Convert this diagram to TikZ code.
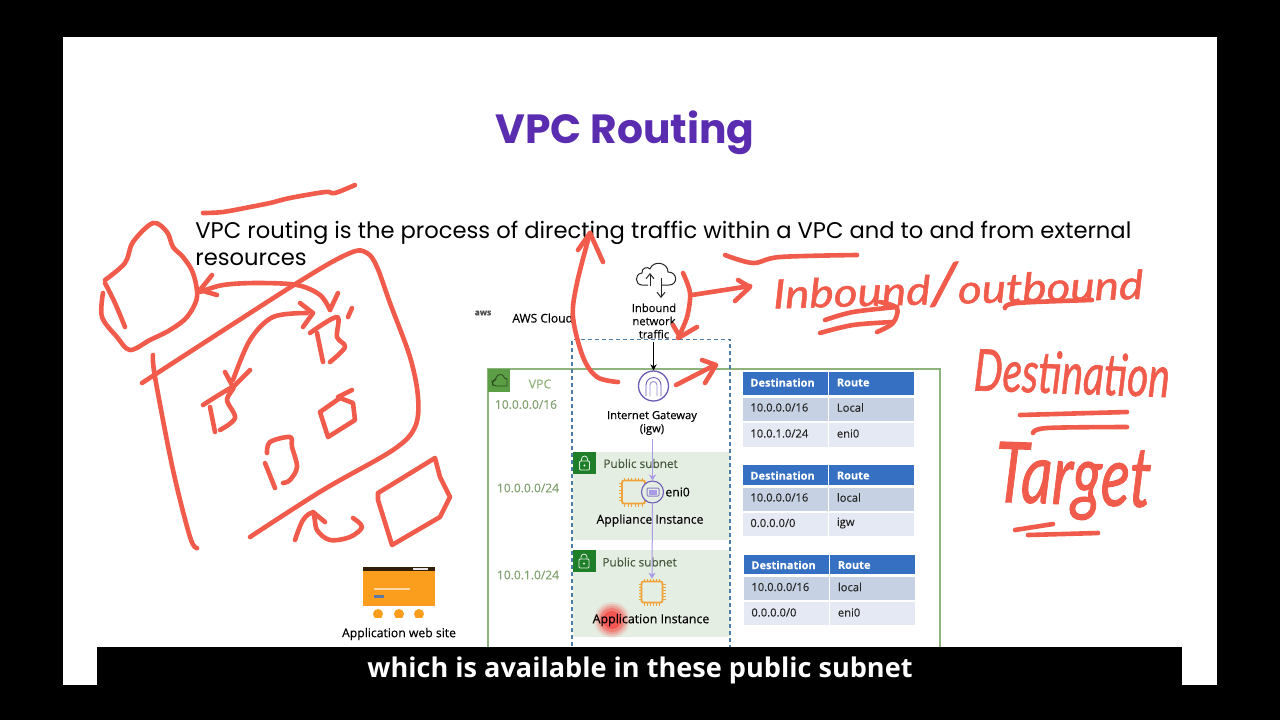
\documentclass[tikz,border=0pt]{standalone}
\usepackage{fontspec}
\setmainfont{Poppins}
\newfontfamily\figfont[FakeBold=0.25]{Open Sans}
\newfontfamily\capfont{Open Sans}
\newfontfamily\handfont[FakeBold=1.2]{Lato Italic}
\usetikzlibrary{arrows.meta}
\definecolor{inkred}{HTML}{F15B4B}
\definecolor{vpcgreen}{HTML}{8FB37C}
\definecolor{vpcicon}{HTML}{5C9E45}
\definecolor{subfill}{HTML}{E4EEE2}
\definecolor{subicon}{HTML}{1F7F28}
\definecolor{dashblue}{HTML}{4E7CA8}
\definecolor{titlepurple}{HTML}{5A2DB0}
\definecolor{gwpurple}{HTML}{6C5CB8}
\definecolor{flowpurple}{HTML}{A99BE6}
\definecolor{chiporange}{HTML}{F0A338}
\definecolor{siteorange}{HTML}{FB9E1E}
\definecolor{headblue}{HTML}{3570C2}
\definecolor{rowa}{HTML}{C6D1E4}
\definecolor{rowb}{HTML}{E5E9F3}
\tikzset{
  ink/.style={draw=inkred,line width=2.3pt,line cap=round,line join=round},
  fig/.style={font=\figfont\fontsize{5.6}{7}\selectfont,text=black,inner sep=0pt,align=center},
  greenlab/.style={font=\figfont\fontsize{6}{7}\selectfont,text=vpcgreen!90!black,inner sep=0pt},
  subtitle/.style={font=\figfont\fontsize{5.9}{7}\selectfont,text=black!30!vpcgreen!70!black,inner sep=0pt,anchor=west},
  body/.style={font=\fontsize{11.32}{14}\selectfont,inner sep=0pt,anchor=base west},
  th/.style={fill=headblue},
  cellhead/.style={font=\figfont\bfseries\fontsize{5.5}{7}\selectfont,text=white,inner sep=0pt,anchor=west},
  cell/.style={font=\figfont\fontsize{5.6}{7}\selectfont,text=black!85,inner sep=0pt,anchor=west},
  hand/.style={text=inkred,inner sep=0pt,font=\handfont},
}
\newcommand{\inkpath}[1]{\draw[ink] plot[smooth,tension=0.55] coordinates {#1};}
\newcommand{\inkline}[1]{\draw[ink,sharp corners] plot coordinates {#1};}
\newcommand{\chipicon}[3]{%
  \foreach \t in {-0.75,-0.45,-0.15,0.15,0.45,0.75}{
    \draw[chiporange,line width=.45pt] (#1+\t*#3,#2-#3-3) -- (#1+\t*#3,#2+#3+3);
    \draw[chiporange,line width=.45pt] (#1-#3-3,#2+\t*#3) -- (#1+#3+3,#2+\t*#3);
  }
  \draw[chiporange,line width=.9pt,fill=subfill,rounded corners=1pt] (#1-#3,#2-#3) rectangle (#1+#3,#2+#3);
}
\newcommand{\lockicon}[2]{%
  \fill[subicon] (#1,#2) rectangle ++(23,22);
  \draw[white!85!subicon,line width=.4pt,rounded corners=.5pt] (#1+6.5,#2+9) rectangle ++(10,9);
  \draw[white!85!subicon,line width=.4pt] (#1+8.5,#2+9) -- ++(0,-2) arc[start angle=180,end angle=360,radius=3] -- ++(0,2);
  \fill[white!85!subicon] (#1+11.5,#2+13.5) circle[radius=1.2];
}
\newcommand{\routetable}[7]{%
  \fill[th] (#1,#2) rectangle (#1+85,#3);
  \fill[th] (#1+86,#2) rectangle (#1+171,#3);
  \fill[rowa] (#1,#4) rectangle (#1+85,#5);
  \fill[rowa] (#1+86,#4) rectangle (#1+171,#5);
  \fill[rowb] (#1,#6) rectangle (#1+85,#7);
  \fill[rowb] (#1+86,#6) rectangle (#1+171,#7);
}
\begin{document}
\begin{tikzpicture}[x=0.5pt,y=-0.5pt]
\useasboundingbox (0,0) rectangle (1280,720);
\fill[black] (0,0) rectangle (1280,720);
\fill[white] (63,37) rectangle (1217,685);

% Title and body
\node[font=\bfseries\fontsize{20.4}{25}\selectfont,text=titlepurple,inner sep=0pt] (title) at (625,133) {VPC Routing};
\node[body] (line1) at (195,238.5) {VPC routing is the process of directing traffic within a VPC and to and from external};
\node[body] (line2) at (195,265) {resources};

% AWS header
\node[font=\figfont\bfseries\fontsize{4.2}{5}\selectfont,text=black!70,inner sep=0pt] (awslogo) at (483,313) {aws};
\node[font=\figfont\fontsize{6}{7}\selectfont,text=black,inner sep=0pt,anchor=west] (awscloud) at (512,318) {AWS Cloud};

% VPC frame
\draw[vpcgreen,line width=.6pt] (488,660) -- (488,369) -- (940,369) -- (940,660);
\fill[vpcicon] (488,369) rectangle (510,392);
\draw[black!55!vpcicon,line width=.4pt,rounded corners=1.5pt] (493,386) -- (492,381) -- (496,380) .. controls (497,374) and (503,374) .. (504,379) .. controls (507,379) and (507,386) .. (504,386) -- cycle;
\node[font=\figfont\fontsize{6.2}{7}\selectfont,text=vpcgreen,inner sep=0pt] (vpclabel) at (540,384) {VPC};
\node[greenlab] (cidr) at (526,404.5) {10.0.0.0/16};
\node[greenlab] (cidra) at (528,488) {10.0.0.0/24};
\node[greenlab] (cidrb) at (528,575) {10.0.1.0/24};

% Subnets
\fill[subfill] (573,452) rectangle (730,540);
\fill[subfill] (573,550) rectangle (730,637);
\lockicon{573}{452}
\lockicon{572.5}{550}
\node[subtitle] (sub1) at (603,463.5) {Public subnet};
\node[subtitle] (sub2) at (602,562) {Public subnet};

% Dashed frame
\draw[dashblue,line width=.55pt,dash pattern=on 2.2pt off 1.3pt] (572,660) -- (572,339.5) -- (730,339.5) -- (730,660);

% Inbound cloud icon
\draw[black!85,line width=.5pt,line join=round] (648,285) -- (642,285) .. controls (635,285) and (634,274) .. (642,273) .. controls (641,268) and (648,266) .. (650,269) .. controls (653,260) and (668,262) .. (668,272) .. controls (678,272) and (678,285) .. (669,285) -- (661,285);
\draw[black!85,line width=.5pt,-{Straight Barb[length=2.5pt,width=4pt]}] (650,286) -- (650,273);
\draw[black!85,line width=.5pt,-{Straight Barb[length=2.5pt,width=4pt]}] (661,278) -- (661,298);
\node[fig] (inbound) at (654,321) {Inbound\\[-.4pt]network\\[-.4pt]traffic};

% Gateway
\node[circle,draw=gwpurple,line width=.65pt,fill=white,minimum size=30pt*0.5,inner sep=0pt] (igw) at (653.5,386) {};
\draw[gwpurple,line width=.45pt] (646,396) -- (646,385) arc[start angle=180,end angle=360,radius=7.5] -- (661,396);
\draw[gwpurple!70,line width=.45pt] (650,396) -- (650,385) arc[start angle=180,end angle=360,radius=3.5] -- (657,396);
\node[fig] (igwlabel) at (652,423) {Internet Gateway\\[-.4pt](igw)};
\draw[black,line width=.4pt,-{Stealth[length=3pt,width=3.2pt]}] (inbound.south -| igw) ++(0,3) -- (igw.north);

% Instances
\chipicon{633.5}{492}{11.5}
\node[circle,draw=gwpurple,line width=.55pt,fill=subfill,minimum size=22pt*0.5,inner sep=0pt] (eni) at (652.5,492) {};
\draw[gwpurple!80,line width=.5pt,rounded corners=.5pt] (647,488) rectangle (659,496);
\fill[flowpurple] (649,489.5) rectangle (657,494.5);
\node[fig,anchor=west,font=\figfont\fontsize{6.1}{7}\selectfont] (enilabel) at (665,492) {eni0};
\node[fig,font=\figfont\fontsize{6.1}{7}\selectfont] (applabel) at (650,520.5) {Appliance Instance};
\chipicon{652}{592}{10.5}
\node[inner sep=0pt,minimum size=13pt] (appchip) at (652,592) {};

% Red laser pointer
\foreach \r/\o in {18/.08,16/.12,14/.16,12/.22,9/.3}{
  \fill[red,opacity=\o] (612,620) circle[radius=\r];
}
\node[fig,font=\figfont\fontsize{6.2}{7}\selectfont] (applabelb) at (651,620) {Application Instance};

% Flow lines
\draw[flowpurple,line width=.5pt,-{Stealth[length=3pt,width=3.6pt]}] (igwlabel.south -| eni) ++(0,4) -- (eni.north);
\draw[flowpurple,line width=.5pt,-{Stealth[length=3pt,width=3.6pt]}] (eni.south) -- (appchip.north);

% Route tables
\routetable{743}{372}{395}{398}{421}{423}{447}
\routetable{743}{465}{485}{488}{511}{513}{536}
\routetable{743.5}{555}{574}{577}{600}{602}{625}
\node[cellhead] (ah) at (750,382.5) {Destination};
\node[cellhead] (ar) at (836.5,382.5) {Route};
\node[cell] (a1) at (750,407.5) {10.0.0.0/16};
\node[cell] (a1r) at (836.5,407.5) {Local};
\node[cell] (a2) at (750,433.5) {10.0.1.0/24};
\node[cell] (a2r) at (836.5,433.5) {eni0};
\node[cellhead] (bh) at (750,475.5) {Destination};
\node[cellhead] (br) at (836.5,475.5) {Route};
\node[cell] (b1) at (750,497.5) {10.0.0.0/16};
\node[cell] (b1r) at (836.5,497.5) {local};
\node[cell] (b2) at (750,523) {0.0.0.0/0};
\node[cell] (b2r) at (836.5,523) {igw};
\node[cellhead] (ch) at (751,565) {Destination};
\node[cellhead] (cr) at (837.5,565) {Route};
\node[cell] (c1) at (751,587) {10.0.0.0/16};
\node[cell] (c1r) at (837.5,587) {local};
\node[cell] (c2) at (751,612.5) {0.0.0.0/0};
\node[cell] (c2r) at (837.5,612.5) {eni0};

% Application web site
\fill[siteorange] (362.5,570) rectangle (435,606);
\fill[black!80!siteorange] (362.5,567) rectangle (435,571);
\fill[white!90!black] (413,567.5) rectangle (428,570);
\fill[white!60!siteorange] (374,588) rectangle (410,590);
\fill[headblue!80!siteorange] (374,595) rectangle (384,598);
\fill[white] (362.5,606) rectangle (435,617);
\begin{scope}
\clip (362,606) rectangle (436,617);
\foreach \cx in {378,399,419}{\fill[siteorange] (\cx,614) circle[radius=5];}
\end{scope}
\node[fig,font=\figfont\fontsize{6.1}{7}\selectfont] (weblabel) at (399,634) {Application web site};

% Handwriting (real text)
\node[hand,rotate=1.5] (handio) at (958,284) {\resizebox{185pt}{21pt}{Inbound{\Large /}outbound}};
\node[hand,rotate=-2] (handdest) at (1072,373) {\resizebox{98pt}{21pt}{Destination}};
\node[hand,rotate=-2] (handtarget) at (1073,482) {\resizebox{78pt}{30pt}{Target}};

% Ink: top-left
\inkpath{(203,213)(223,212)(250,207)(270,203)(290,198)(325,192)(335,193)(355,185)}
% cloud blob
\inkpath{(105,280)(125,263)(133,242)(153,223)(167,232)(173,247)(183,257)(193,273)(197,297)(187,317)(170,330)(150,340)(130,350)(117,337)(102,317)(103,293)}
\inkpath{(105,283)(115,303)(125,327)}
% big VPC box
\inkpath{(142,383)(297,283)(350,253)(367,253)(377,267)(390,303)(410,357)(418,397)(415,427)(393,450)(323,490)(250,537)}
\inkpath{(153,355)(155,377)(173,470)(190,537)(197,548)}
% arrow to cloud
\inkpath{(330,310)(320,295)(297,285)(257,283)(223,285)(200,292)}
\inkline{(212,275)(200,290)(217,295)}
\inkline{(338,293)(330,310)}
% box 1
\inkpath{(310,333)(337,317)(337,337)(345,347)(330,362)}
\inkline{(317,333)(323,362)}
\inkline{(352,308)(348,317)}
% arc between boxes
\inkpath{(307,313)(273,317)(250,340)(233,380)}
\inkline{(300,303)(313,313)(303,327)}
\inkline{(225,372)(233,387)(250,370)}
% box 2
\inkpath{(203,405)(233,387)(227,400)(235,418)(220,430)}
\inkline{(210,407)(215,432)}
% box 3
\inkline{(320,412)(340,398)(353,403)(355,420)(328,437)(320,412)}
\inkline{(338,397)(352,390)}
% box 4
\inkpath{(267,453)(270,442)(290,437)(292,447)(297,467)(290,480)(283,483)}
\inkline{(265,463)(275,488)}
% external box
\inkline{(378,493)(435,458)(440,477)(450,497)(440,517)(392,545)(378,500)(378,493)}
% curl
\inkpath{(295,540)(303,520)(313,513)(317,530)(330,540)(350,537)(362,527)(353,518)}
\inkline{(313,512)(325,522)}

% Ink: centre
\inkpath{(618,382)(597,377)(583,357)(573,317)(577,283)(590,233)}
\inkline{(578,250)(590,233)(603,262)}
\inkpath{(683,273)(690,293)(687,317)(678,338)}
\inkline{(673,325)(680,337)(697,327)}
\inkline{(692,295)(750,286)}
\inkline{(738,280)(750,287)(735,301)}
\inkline{(676,385)(715,365)}
\inkline{(702,360)(716,365)(705,383)}

% Ink: right
\inkpath{(725,255)(753,263)(780,257)(857,255)}
\inkpath{(1005,308)(1017,303)(1092,300)}
\inkpath{(825,320)(853,312)(897,307)}
\inkpath{(820,333)(853,325)(893,322)}
\inkpath{(880,302)(897,308)(893,323)(877,332)}
\inkline{(1020,415)(1127,412)}
\inkpath{(1033,433)(1047,428)(1127,427)}
\inkline{(1015,530)(1053,524)}
\inkline{(1028,535)(1098,533)}

% Caption bar
\fill[black] (0,685) rectangle (1280,720);
\fill[black] (97,647) rectangle (1182,685);
\node[font=\capfont\bfseries\fontsize{13.55}{16}\selectfont,text=white,inner sep=0pt] (caption) at (640,670.5) {which is available in these public subnet};
\end{tikzpicture}
\end{document}
